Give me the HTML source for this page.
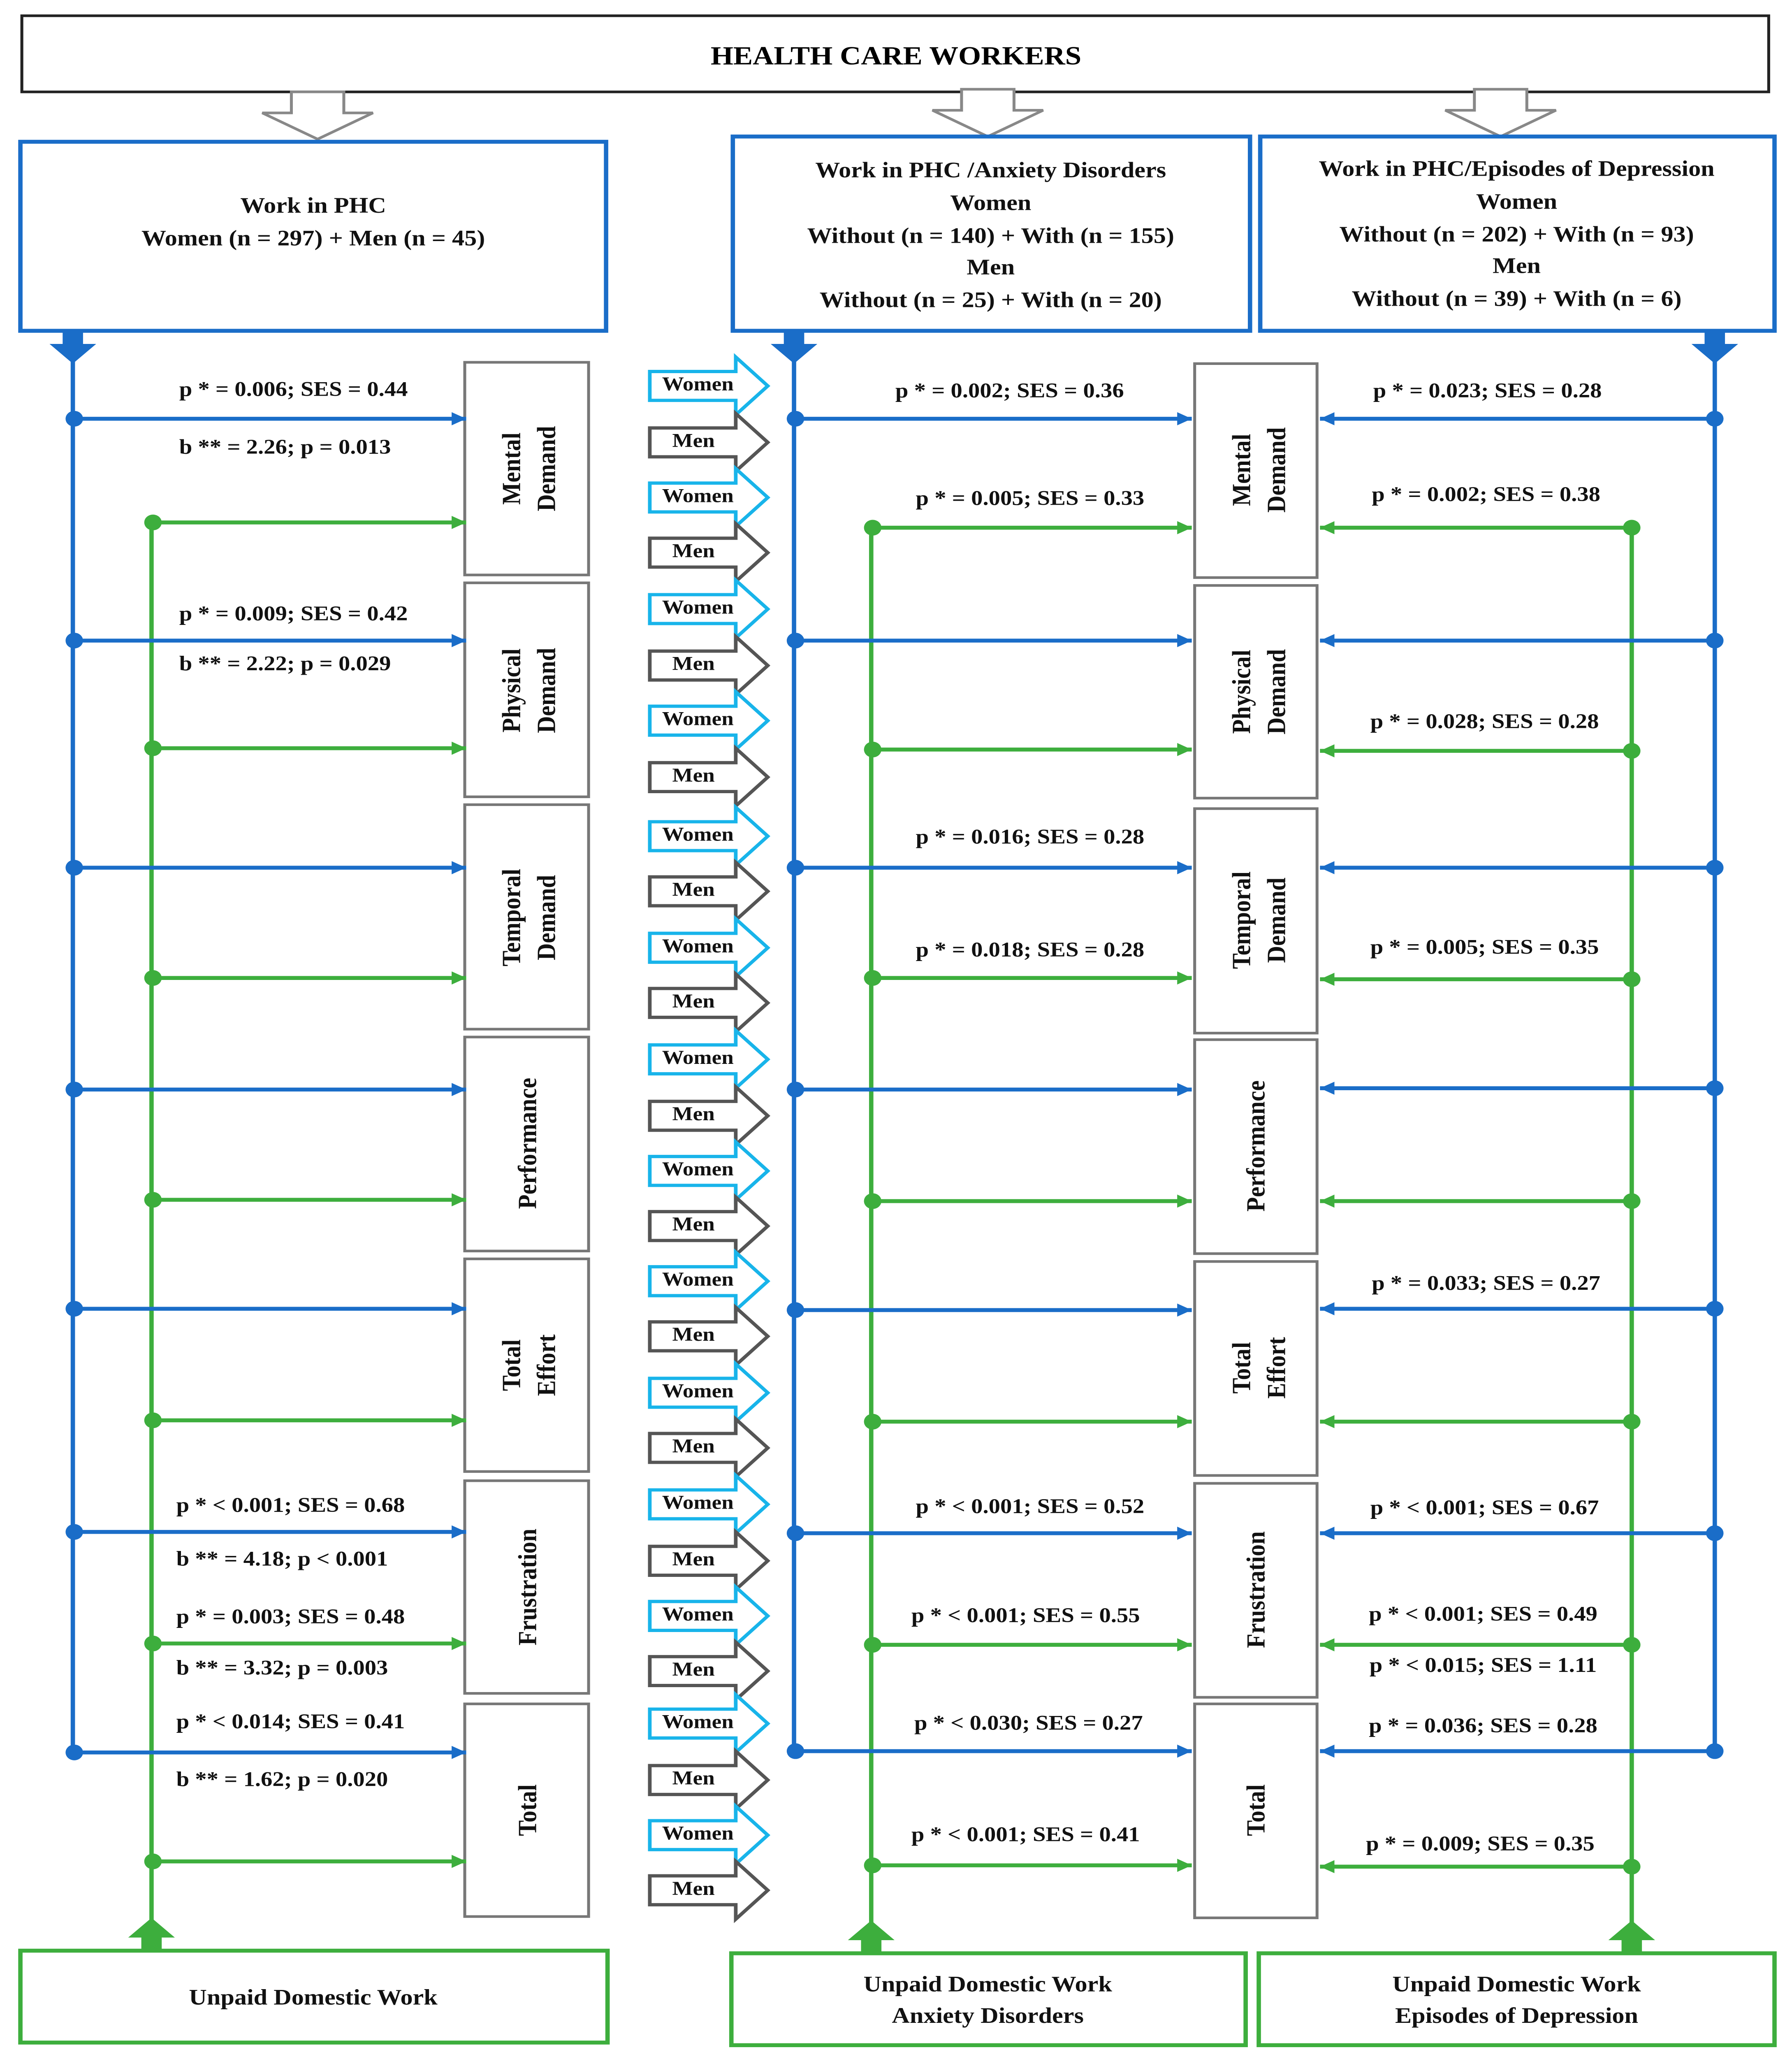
<!DOCTYPE html>
<html><head><meta charset="utf-8"><style>html,body{margin:0;padding:0;background:#fff;overflow:hidden}svg{position:fixed;left:0;top:0;width:100vw;height:100vh;display:block}</style></head>
<body>
<svg xmlns="http://www.w3.org/2000/svg" viewBox="0 0 1230 1567" preserveAspectRatio="none" font-family="'Liberation Serif', serif">
<defs>
<marker id="ab" markerUnits="userSpaceOnUse" markerWidth="12" markerHeight="12" refX="10" refY="6" orient="auto"><path d="M0,1 L10,6 L0,11 z" fill="#1a6dc8"/></marker>
<marker id="ag" markerUnits="userSpaceOnUse" markerWidth="12" markerHeight="12" refX="10" refY="6" orient="auto"><path d="M0,1 L10,6 L0,11 z" fill="#3dae3d"/></marker>
<polygon id="pw" points="0,-11 59,-11 59,-22 81,0 59,22 59,11 0,11" fill="#fff" stroke="#18b4ea" stroke-width="2.5"/>
<polygon id="pm" points="0,-11 59,-11 59,-22 81,0 59,22 59,11 0,11" fill="#fff" stroke="#555" stroke-width="2.5"/>
<polygon id="hol" points="-18,0 18,0 18,16 38,16 0,36 -38,16 -18,16" fill="#fff" stroke="#888" stroke-width="2"/>
</defs>
<rect width="1230" height="1567" fill="#fff"/>
<rect x="15" y="12" width="1199" height="58" fill="#fff" stroke="#222" stroke-width="2"/>
<text x="615" y="49" font-size="20" font-weight="bold" text-anchor="middle">HEALTH CARE WORKERS</text>
<use href="#hol" x="218" y="70"/><use href="#hol" x="678" y="68"/><use href="#hol" x="1030" y="68"/>

<g fill="#fff" stroke="#1a6dc8" stroke-width="3">
<rect x="14" y="108" width="402" height="144"/>
<rect x="503" y="104" width="355" height="148"/>
<rect x="865" y="104" width="353" height="148"/>
</g>
<g font-size="17" font-weight="bold" text-anchor="middle" fill="#111">
<text x="215" y="162">Work in PHC</text>
<text x="215" y="187">Women (n = 297) + Men (n = 45)</text>
<text x="680" y="135">Work in PHC /Anxiety Disorders</text>
<text x="680" y="160">Women</text>
<text x="680" y="185">Without (n = 140) + With (n = 155)</text>
<text x="680" y="209">Men</text>
<text x="680" y="234">Without (n = 25) + With (n = 20)</text>
<text x="1041" y="134">Work in PHC/Episodes of Depression</text>
<text x="1041" y="159">Women</text>
<text x="1041" y="184">Without (n = 202) + With (n = 93)</text>
<text x="1041" y="208">Men</text>
<text x="1041" y="233">Without (n = 39) + With (n = 6)</text>
</g>

<g fill="#fff" stroke="#3dae3d" stroke-width="3">
<rect x="14" y="1486" width="403" height="70"/>
<rect x="502" y="1488" width="353" height="70"/>
<rect x="864" y="1488" width="354" height="70"/>
</g>
<g font-size="17" font-weight="bold" text-anchor="middle" fill="#111">
<text x="215" y="1527">Unpaid Domestic Work</text>
<text x="678" y="1517">Unpaid Domestic Work</text>
<text x="678" y="1541">Anxiety Disorders</text>
<text x="1041" y="1517">Unpaid Domestic Work</text>
<text x="1041" y="1541">Episodes of Depression</text>
</g>

<g stroke-width="3" fill="none">
<path d="M50,252 V1336 M545,252 V1336 M1177,252 V1336" stroke="#1a6dc8"/>
<path d="M104,398 V1486 M598,402 V1488 M1120,402 V1488" stroke="#3dae3d"/>
</g>
<g fill="#1a6dc8">
<path d="M43,252 h14 v10 h9 l-16,15 l-16,-15 h9z"/>
<path d="M538,252 h14 v10 h9 l-16,15 l-16,-15 h9z"/>
<path d="M1170,252 h14 v10 h9 l-16,15 l-16,-15 h9z"/>
</g>
<g fill="#3dae3d">
<path d="M97,1486 h14 v-10 h9 l-16,-15 l-16,15 h9z"/>
<path d="M591,1488 h14 v-10 h9 l-16,-15 l-16,15 h9z"/>
<path d="M1113,1488 h14 v-10 h9 l-16,-15 l-16,15 h9z"/>
</g>

<g fill="#fff" stroke="#777" stroke-width="2">
<rect x="319" y="276" width="85" height="162"/><rect x="319" y="444" width="85" height="163"/>
<rect x="319" y="613" width="85" height="171"/><rect x="319" y="790" width="85" height="163"/>
<rect x="319" y="959" width="85" height="162"/><rect x="319" y="1128" width="85" height="162"/>
<rect x="319" y="1298" width="85" height="162"/>
<rect x="820" y="277" width="84" height="163"/><rect x="820" y="446" width="84" height="162"/>
<rect x="820" y="616" width="84" height="171"/><rect x="820" y="792" width="84" height="163"/>
<rect x="820" y="961" width="84" height="163"/><rect x="820" y="1130" width="84" height="163"/>
<rect x="820" y="1298" width="84" height="163"/>
</g>
<g font-size="18" font-weight="bold" text-anchor="middle" fill="#111">
<text transform="translate(357,357) rotate(-90)">Mental</text><text transform="translate(381,357) rotate(-90)">Demand</text>
<text transform="translate(357,526) rotate(-90)">Physical</text><text transform="translate(381,526) rotate(-90)">Demand</text>
<text transform="translate(357,699) rotate(-90)">Temporal</text><text transform="translate(381,699) rotate(-90)">Demand</text>
<text transform="translate(368,871) rotate(-90)">Performance</text>
<text transform="translate(357,1040) rotate(-90)">Total</text><text transform="translate(381,1040) rotate(-90)">Effort</text>
<text transform="translate(368,1209) rotate(-90)">Frustration</text>
<text transform="translate(368,1379) rotate(-90)">Total</text>
<text transform="translate(858,358) rotate(-90)">Mental</text><text transform="translate(882,358) rotate(-90)">Demand</text>
<text transform="translate(858,527) rotate(-90)">Physical</text><text transform="translate(882,527) rotate(-90)">Demand</text>
<text transform="translate(858,701) rotate(-90)">Temporal</text><text transform="translate(882,701) rotate(-90)">Demand</text>
<text transform="translate(868,873) rotate(-90)">Performance</text>
<text transform="translate(858,1042) rotate(-90)">Total</text><text transform="translate(882,1042) rotate(-90)">Effort</text>
<text transform="translate(868,1211) rotate(-90)">Frustration</text>
<text transform="translate(868,1379) rotate(-90)">Total</text>
</g>

<g stroke="#1a6dc8" stroke-width="3" marker-end="url(#ab)">
<path d="M52,319 H320"/><path d="M52,488 H320"/><path d="M52,661 H320"/><path d="M52,830 H320"/><path d="M52,997 H320"/><path d="M52,1167 H320"/><path d="M52,1335 H320"/>
<path d="M547,319 H818"/><path d="M547,488 H818"/><path d="M547,661 H818"/><path d="M547,830 H818"/><path d="M547,998 H818"/><path d="M547,1168 H818"/><path d="M547,1334 H818"/>
<path d="M1175,319 H906"/><path d="M1175,488 H906"/><path d="M1175,661 H906"/><path d="M1175,829 H906"/><path d="M1175,997 H906"/><path d="M1175,1168 H906"/><path d="M1175,1334 H906"/>
</g>
<g stroke="#3dae3d" stroke-width="3" marker-end="url(#ag)">
<path d="M106,398 H320"/><path d="M106,570 H320"/><path d="M106,745 H320"/><path d="M106,914 H320"/><path d="M106,1082 H320"/><path d="M106,1252 H320"/><path d="M106,1418 H320"/>
<path d="M600,402 H818"/><path d="M600,571 H818"/><path d="M600,745 H818"/><path d="M600,915 H818"/><path d="M600,1083 H818"/><path d="M600,1253 H818"/><path d="M600,1421 H818"/>
<path d="M1118,402 H906"/><path d="M1118,572 H906"/><path d="M1118,746 H906"/><path d="M1118,915 H906"/><path d="M1118,1083 H906"/><path d="M1118,1253 H906"/><path d="M1118,1422 H906"/>
</g>
<g fill="#1a6dc8">
<circle cx="51" cy="319" r="6"/><circle cx="51" cy="488" r="6"/><circle cx="51" cy="661" r="6"/><circle cx="51" cy="830" r="6"/><circle cx="51" cy="997" r="6"/><circle cx="51" cy="1167" r="6"/><circle cx="51" cy="1335" r="6"/>
<circle cx="546" cy="319" r="6"/><circle cx="546" cy="488" r="6"/><circle cx="546" cy="661" r="6"/><circle cx="546" cy="830" r="6"/><circle cx="546" cy="998" r="6"/><circle cx="546" cy="1168" r="6"/><circle cx="546" cy="1334" r="6"/>
<circle cx="1177" cy="319" r="6"/><circle cx="1177" cy="488" r="6"/><circle cx="1177" cy="661" r="6"/><circle cx="1177" cy="829" r="6"/><circle cx="1177" cy="997" r="6"/><circle cx="1177" cy="1168" r="6"/><circle cx="1177" cy="1334" r="6"/>
</g>
<g fill="#3dae3d">
<circle cx="105" cy="398" r="6"/><circle cx="105" cy="570" r="6"/><circle cx="105" cy="745" r="6"/><circle cx="105" cy="914" r="6"/><circle cx="105" cy="1082" r="6"/><circle cx="105" cy="1252" r="6"/><circle cx="105" cy="1418" r="6"/>
<circle cx="599" cy="402" r="6"/><circle cx="599" cy="571" r="6"/><circle cx="599" cy="745" r="6"/><circle cx="599" cy="915" r="6"/><circle cx="599" cy="1083" r="6"/><circle cx="599" cy="1253" r="6"/><circle cx="599" cy="1421" r="6"/>
<circle cx="1120" cy="402" r="6"/><circle cx="1120" cy="572" r="6"/><circle cx="1120" cy="746" r="6"/><circle cx="1120" cy="915" r="6"/><circle cx="1120" cy="1083" r="6"/><circle cx="1120" cy="1253" r="6"/><circle cx="1120" cy="1422" r="6"/>
</g>

<g font-size="16" font-weight="bold" fill="#111" dominant-baseline="middle">
<text x="123" y="298">p * = 0.006; SES = 0.44</text><text x="123" y="342">b ** = 2.26; p = 0.013</text>
<text x="123" y="469">p * = 0.009; SES = 0.42</text><text x="123" y="507">b ** = 2.22; p = 0.029</text>
<text x="121" y="1148">p * &lt; 0.001; SES = 0.68</text><text x="121" y="1189">b ** = 4.18; p &lt; 0.001</text>
<text x="121" y="1233">p * = 0.003; SES = 0.48</text><text x="121" y="1272">b ** = 3.32; p = 0.003</text>
<text x="121" y="1313">p * &lt; 0.014; SES = 0.41</text><text x="121" y="1357">b ** = 1.62; p = 0.020</text>
</g>
<g font-size="16" font-weight="bold" fill="#111" dominant-baseline="middle" text-anchor="middle">
<text x="693" y="299">p * = 0.002; SES = 0.36</text>
<text x="707" y="381">p * = 0.005; SES = 0.33</text>
<text x="707" y="639">p * = 0.016; SES = 0.28</text>
<text x="707" y="725">p * = 0.018; SES = 0.28</text>
<text x="707" y="1149">p * &lt; 0.001; SES = 0.52</text>
<text x="704" y="1232">p * &lt; 0.001; SES = 0.55</text>
<text x="706" y="1314">p * &lt; 0.030; SES = 0.27</text>
<text x="704" y="1399">p * &lt; 0.001; SES = 0.41</text>
<text x="1021" y="299">p * = 0.023; SES = 0.28</text>
<text x="1020" y="378">p * = 0.002; SES = 0.38</text>
<text x="1019" y="551">p * = 0.028; SES = 0.28</text>
<text x="1019" y="723">p * = 0.005; SES = 0.35</text>
<text x="1020" y="979">p * = 0.033; SES = 0.27</text>
<text x="1019" y="1150">p * &lt; 0.001; SES = 0.67</text>
<text x="1018" y="1231">p * &lt; 0.001; SES = 0.49</text>
<text x="1018" y="1270">p * &lt; 0.015; SES = 1.11</text>
<text x="1018" y="1316">p * = 0.036; SES = 0.28</text>
<text x="1016" y="1406">p * = 0.009; SES = 0.35</text>
</g>

<g>
<use href="#pw" x="446" y="294"/><use href="#pm" x="446" y="337"/>
<use href="#pw" x="446" y="379"/><use href="#pm" x="446" y="421"/>
<use href="#pw" x="446" y="464"/><use href="#pm" x="446" y="507"/>
<use href="#pw" x="446" y="549"/><use href="#pm" x="446" y="592"/>
<use href="#pw" x="446" y="637"/><use href="#pm" x="446" y="679"/>
<use href="#pw" x="446" y="722"/><use href="#pm" x="446" y="764"/>
<use href="#pw" x="446" y="807"/><use href="#pm" x="446" y="850"/>
<use href="#pw" x="446" y="892"/><use href="#pm" x="446" y="934"/>
<use href="#pw" x="446" y="976"/><use href="#pm" x="446" y="1018"/>
<use href="#pw" x="446" y="1061"/><use href="#pm" x="446" y="1103"/>
<use href="#pw" x="446" y="1146"/><use href="#pm" x="446" y="1189"/>
<use href="#pw" x="446" y="1231"/><use href="#pm" x="446" y="1273"/>
<use href="#pw" x="446" y="1313"/><use href="#pm" x="446" y="1356"/>
<use href="#pw" x="446" y="1398"/><use href="#pm" x="446" y="1440"/>
</g>
<g font-size="15" font-weight="bold" fill="#111" dominant-baseline="middle" text-anchor="middle">
<text x="479" y="294">Women</text><text x="476" y="337">Men</text>
<text x="479" y="379">Women</text><text x="476" y="421">Men</text>
<text x="479" y="464">Women</text><text x="476" y="507">Men</text>
<text x="479" y="549">Women</text><text x="476" y="592">Men</text>
<text x="479" y="637">Women</text><text x="476" y="679">Men</text>
<text x="479" y="722">Women</text><text x="476" y="764">Men</text>
<text x="479" y="807">Women</text><text x="476" y="850">Men</text>
<text x="479" y="892">Women</text><text x="476" y="934">Men</text>
<text x="479" y="976">Women</text><text x="476" y="1018">Men</text>
<text x="479" y="1061">Women</text><text x="476" y="1103">Men</text>
<text x="479" y="1146">Women</text><text x="476" y="1189">Men</text>
<text x="479" y="1231">Women</text><text x="476" y="1273">Men</text>
<text x="479" y="1313">Women</text><text x="476" y="1356">Men</text>
<text x="479" y="1398">Women</text><text x="476" y="1440">Men</text>
</g>
</svg>
</body></html>
